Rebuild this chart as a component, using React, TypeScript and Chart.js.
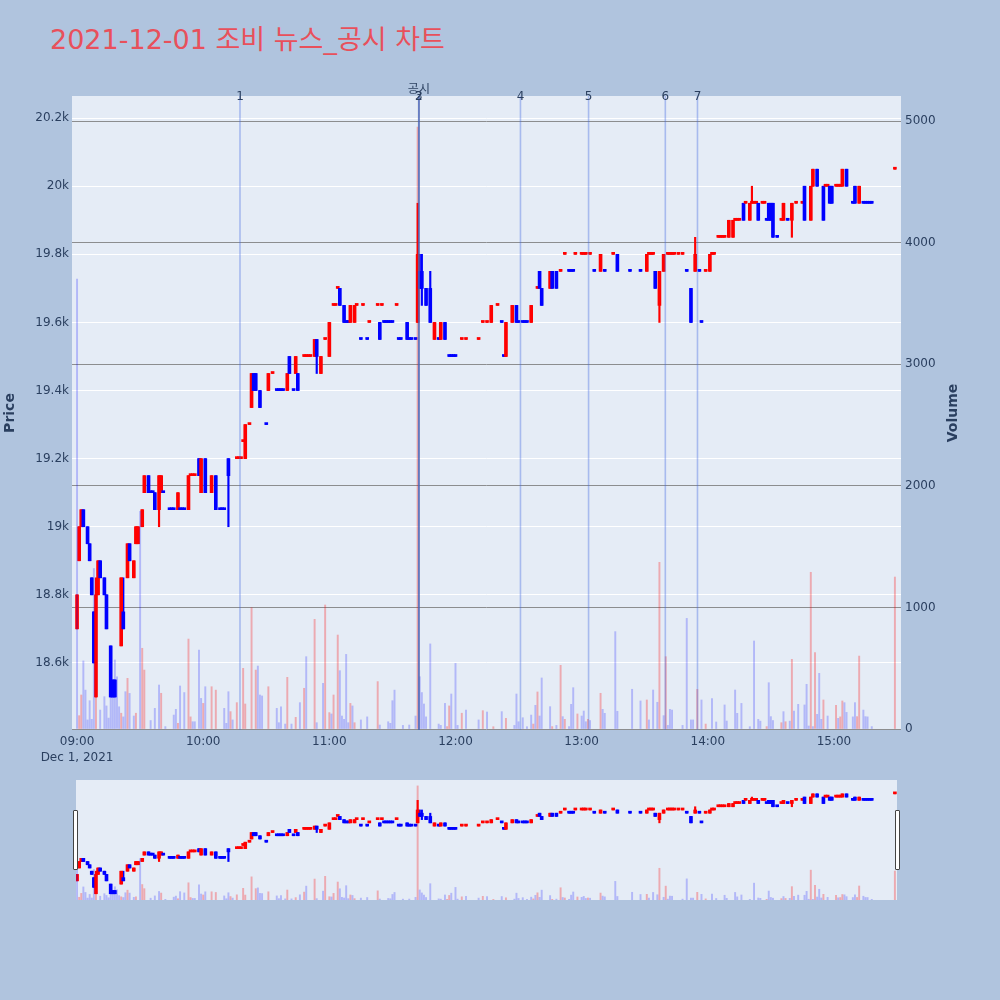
import React, { useEffect, useRef } from "react";
import { Chart, registerables } from "chart.js";

Chart.register(...registerables);

// ---------- data (minutes after 09:00, 2021-12-01) ----------
const candleMinutes = [
  0, 1, 2, 3, 5, 6, 7, 8, 9, 10,
  11, 13, 14, 16, 17, 18, 21, 22, 24, 25,
  27, 28, 29, 31, 32, 34, 35, 36, 37, 39,
  40, 41, 44, 45, 46, 48, 49, 50, 51, 53,
  54, 55, 56, 58, 59, 61, 64, 66, 68, 69,
  70, 72, 76, 77, 78, 79, 80, 82, 83, 84,
  85, 87, 90, 91, 93, 95, 96, 97, 98, 100,
  101, 103, 104, 105, 108, 109, 110, 111, 113, 114,
  116, 118, 120, 122, 123, 124, 125, 127, 128, 129,
  130, 132, 133, 135, 136, 138, 139, 143, 144, 145,
  146, 147, 148, 149, 150, 152, 153, 154, 157, 158,
  159, 161, 162, 163, 164, 166, 168, 170, 172, 173,
  175, 177, 178, 179, 180, 183, 185, 191, 193, 195,
  197, 200, 202, 203, 204, 207, 209, 210, 212, 213,
  214, 216, 219, 220, 221, 225, 226, 228, 230, 232,
  234, 235, 236, 237, 240, 241, 242, 244, 246, 249,
  251, 255, 257, 263, 268, 271, 272, 273, 274, 275,
  277, 279, 281, 282, 283, 284, 286, 288, 290, 292,
  294, 296, 297, 299, 301, 302, 303, 305, 306, 307,
  308, 310, 312, 313, 314, 315, 317, 318, 320, 321,
  322, 323, 324, 326, 327, 328, 329, 330, 331, 333,
  335, 336, 338, 340, 342, 345, 346, 349, 350, 352,
  355, 356, 357, 358, 359, 361, 362, 363, 364, 366,
  369, 370, 372, 374, 375, 376, 377, 378, 389,
];

const openPrices = [
  18700, 18900, 19000, 19050, 19000, 18950, 18850, 18750, 18500, 18800,
  18900, 18850, 18800, 18650, 18550, 18550, 18650, 18750, 18850, 18950,
  18850, 18950, 18950, 19000, 19100, 19150, 19100, 19100, 19100, 19050,
  19100, 19100, 19050, 19050, 19050, 19050, 19050, 19050, 19050, 19050,
  19150, 19150, 19150, 19200, 19100, 19200, 19100, 19150, 19050, 19050,
  19050, 19200, 19200, 19200, 19200, 19250, 19200, 19300, 19350, 19450,
  19450, 19400, 19300, 19400, 19450, 19400, 19400, 19400, 19400, 19400,
  19500, 19400, 19450, 19450, 19500, 19500, 19500, 19500, 19500, 19550,
  19450, 19550, 19500, 19650, 19650, 19700, 19700, 19650, 19600, 19600,
  19600, 19600, 19650, 19550, 19650, 19550, 19600, 19650, 19600, 19650,
  19600, 19600, 19600, 19600, 19600, 19650, 19550, 19550, 19600, 19550,
  19550, 19550, 19600, 19750, 19750, 19700, 19700, 19550, 19550, 19550,
  19600, 19500, 19500, 19500, 19500, 19550, 19550, 19550, 19600, 19600,
  19600, 19650, 19600, 19500, 19500, 19600, 19650, 19600, 19600, 19600,
  19600, 19600, 19700, 19750, 19700, 19700, 19750, 19750, 19750, 19800,
  19750, 19750, 19750, 19800, 19800, 19800, 19800, 19800, 19750, 19750,
  19750, 19800, 19800, 19750, 19750, 19750, 19800, 19800, 19800, 19750,
  19650, 19750, 19800, 19800, 19800, 19800, 19800, 19800, 19750, 19700,
  19750, 19750, 19600, 19750, 19750, 19800, 19800, 19850, 19850, 19850,
  19850, 19850, 19850, 19900, 19900, 19900, 19950, 19950, 19900, 19950,
  19950, 19950, 19950, 19950, 19950, 19900, 19950, 19950, 19950, 19850,
  19900, 19900, 19900, 19900, 19950, 19950, 20000, 19900, 20000, 20050,
  20000, 20000, 20000, 20000, 20000, 20000, 20000, 20000, 20000, 20050,
  19950, 20000, 19950, 19950, 19950, 19950, 19950, 19950, 20050,
];

const highPrices = [
  18800, 19000, 19050, 19050, 19000, 18950, 18850, 18750, 18850, 18900,
  18900, 18850, 18800, 18650, 18550, 18550, 18850, 18850, 18950, 18950,
  18900, 19000, 19000, 19050, 19150, 19150, 19100, 19100, 19100, 19150,
  19150, 19100, 19050, 19050, 19050, 19100, 19050, 19050, 19050, 19150,
  19150, 19150, 19150, 19200, 19200, 19200, 19150, 19150, 19050, 19050,
  19050, 19200, 19200, 19200, 19200, 19250, 19300, 19300, 19450, 19450,
  19450, 19400, 19300, 19450, 19450, 19400, 19400, 19400, 19400, 19450,
  19500, 19400, 19500, 19450, 19500, 19500, 19500, 19500, 19550, 19550,
  19500, 19550, 19600, 19650, 19650, 19700, 19700, 19650, 19600, 19600,
  19650, 19650, 19650, 19550, 19650, 19550, 19600, 19650, 19600, 19650,
  19600, 19600, 19600, 19600, 19600, 19650, 19550, 19550, 19600, 19550,
  19550, 19550, 19950, 19800, 19800, 19700, 19750, 19600, 19550, 19600,
  19600, 19500, 19500, 19500, 19500, 19550, 19550, 19550, 19600, 19600,
  19650, 19650, 19600, 19500, 19600, 19650, 19650, 19600, 19600, 19600,
  19600, 19650, 19700, 19750, 19700, 19750, 19750, 19750, 19750, 19800,
  19750, 19750, 19750, 19800, 19800, 19800, 19800, 19800, 19750, 19800,
  19750, 19800, 19800, 19750, 19750, 19800, 19800, 19800, 19800, 19750,
  19750, 19800, 19800, 19800, 19800, 19800, 19800, 19800, 19750, 19700,
  19850, 19750, 19600, 19750, 19800, 19800, 19800, 19850, 19850, 19850,
  19850, 19900, 19900, 19900, 19900, 19900, 19950, 19950, 19950, 20000,
  19950, 19950, 19950, 19950, 19950, 19900, 19950, 19950, 19950, 19850,
  19900, 19950, 19900, 19950, 19950, 19950, 20000, 20000, 20050, 20050,
  20000, 20000, 20000, 20000, 20000, 20000, 20000, 20000, 20050, 20050,
  19950, 20000, 20000, 19950, 19950, 19950, 19950, 19950, 20050,
];

const lowPrices = [
  18700, 18900, 19000, 19000, 18950, 18900, 18800, 18600, 18500, 18800,
  18850, 18800, 18700, 18500, 18500, 18500, 18650, 18700, 18850, 18900,
  18850, 18950, 18950, 19000, 19100, 19100, 19100, 19100, 19050, 19000,
  19100, 19100, 19050, 19050, 19050, 19050, 19050, 19050, 19050, 19050,
  19150, 19150, 19150, 19150, 19100, 19100, 19100, 19050, 19050, 19050,
  19050, 19000, 19200, 19200, 19200, 19250, 19200, 19300, 19350, 19400,
  19400, 19350, 19300, 19400, 19450, 19400, 19400, 19400, 19400, 19400,
  19450, 19400, 19450, 19400, 19500, 19500, 19500, 19500, 19500, 19450,
  19450, 19550, 19500, 19650, 19650, 19700, 19650, 19600, 19600, 19600,
  19600, 19600, 19650, 19550, 19650, 19550, 19600, 19650, 19550, 19650,
  19600, 19600, 19600, 19600, 19600, 19650, 19550, 19550, 19550, 19550,
  19550, 19550, 19600, 19700, 19650, 19650, 19600, 19550, 19550, 19550,
  19550, 19500, 19500, 19500, 19500, 19550, 19550, 19550, 19600, 19600,
  19600, 19650, 19600, 19500, 19500, 19600, 19600, 19600, 19600, 19600,
  19600, 19600, 19700, 19700, 19650, 19700, 19700, 19700, 19750, 19800,
  19750, 19750, 19750, 19800, 19800, 19800, 19800, 19800, 19750, 19750,
  19750, 19800, 19750, 19750, 19750, 19750, 19800, 19800, 19800, 19700,
  19600, 19750, 19800, 19800, 19800, 19800, 19800, 19800, 19750, 19600,
  19750, 19750, 19600, 19750, 19750, 19800, 19800, 19850, 19850, 19850,
  19850, 19850, 19850, 19900, 19900, 19900, 19900, 19950, 19900, 19950,
  19950, 19950, 19900, 19950, 19950, 19900, 19900, 19900, 19850, 19850,
  19900, 19900, 19900, 19850, 19950, 19950, 19900, 19900, 20000, 20000,
  19900, 20000, 20000, 19950, 19950, 20000, 20000, 20000, 20000, 20000,
  19950, 19950, 19950, 19950, 19950, 19950, 19950, 19950, 20050,
];

const closePrices = [
  18800, 19000, 19050, 19000, 18950, 18900, 18800, 18600, 18800, 18900,
  18850, 18800, 18700, 18500, 18500, 18500, 18850, 18700, 18950, 18900,
  18900, 19000, 19000, 19050, 19150, 19100, 19100, 19100, 19050, 19150,
  19150, 19100, 19050, 19050, 19050, 19100, 19050, 19050, 19050, 19150,
  19150, 19150, 19150, 19150, 19200, 19100, 19150, 19050, 19050, 19050,
  19050, 19150, 19200, 19200, 19200, 19250, 19300, 19300, 19450, 19400,
  19400, 19350, 19300, 19450, 19450, 19400, 19400, 19400, 19400, 19450,
  19450, 19400, 19500, 19400, 19500, 19500, 19500, 19500, 19550, 19500,
  19500, 19550, 19600, 19650, 19650, 19700, 19650, 19600, 19600, 19600,
  19650, 19650, 19650, 19550, 19650, 19550, 19600, 19650, 19550, 19650,
  19600, 19600, 19600, 19600, 19600, 19650, 19550, 19550, 19550, 19550,
  19550, 19550, 19800, 19700, 19700, 19650, 19600, 19600, 19550, 19600,
  19550, 19500, 19500, 19500, 19500, 19550, 19550, 19550, 19600, 19600,
  19650, 19650, 19600, 19500, 19600, 19650, 19600, 19600, 19600, 19600,
  19600, 19650, 19700, 19700, 19650, 19750, 19700, 19700, 19750, 19800,
  19750, 19750, 19750, 19800, 19800, 19800, 19800, 19800, 19750, 19800,
  19750, 19800, 19750, 19750, 19750, 19800, 19800, 19800, 19800, 19700,
  19750, 19800, 19800, 19800, 19800, 19800, 19800, 19800, 19750, 19600,
  19800, 19750, 19600, 19750, 19800, 19800, 19800, 19850, 19850, 19850,
  19850, 19900, 19900, 19900, 19900, 19900, 19900, 19950, 19950, 19950,
  19950, 19950, 19900, 19950, 19950, 19900, 19900, 19900, 19850, 19850,
  19900, 19950, 19900, 19950, 19950, 19950, 19900, 20000, 20050, 20000,
  19900, 20000, 20000, 19950, 19950, 20000, 20000, 20000, 20050, 20000,
  19950, 19950, 20000, 19950, 19950, 19950, 19950, 19950, 20050,
];

const volumeMinutes = [
  0, 1, 2, 3, 4, 5, 6, 7, 8, 9,
  11, 13, 14, 15, 16, 17, 18, 19, 20, 21,
  22, 23, 24, 25, 27, 28, 30, 31, 32, 35,
  37, 39, 40, 42, 46, 47, 48, 49, 51, 53,
  54, 55, 56, 58, 59, 60, 61, 64, 66, 70,
  71, 72, 73, 74, 76, 79, 80, 83, 85, 86,
  87, 88, 91, 95, 96, 97, 99, 100, 102, 104,
  106, 108, 109, 113, 114, 117, 118, 120, 121, 122,
  124, 125, 126, 127, 128, 129, 130, 131, 132, 135,
  138, 143, 144, 148, 149, 150, 151, 155, 158, 161,
  162, 163, 164, 165, 166, 168, 172, 173, 175, 176,
  177, 178, 180, 181, 183, 185, 191, 193, 195, 198,
  202, 204, 208, 209, 210, 212, 214, 216, 217, 218,
  219, 220, 221, 225, 226, 228, 230, 231, 232, 234,
  235, 236, 238, 240, 241, 242, 243, 244, 249, 250,
  251, 256, 257, 264, 268, 271, 272, 274, 276, 277,
  279, 280, 281, 282, 283, 288, 290, 292, 293, 295,
  297, 299, 302, 304, 308, 309, 313, 314, 316, 320,
  322, 324, 325, 328, 329, 330, 331, 335, 336, 337,
  339, 340, 341, 343, 346, 347, 348, 349, 350, 351,
  352, 353, 354, 355, 357, 361, 362, 363, 364, 365,
  366, 369, 370, 371, 372, 374, 375, 376, 378, 389,
];

const volumeValues = [
  3700, 110, 280, 560, 320, 75, 233, 80, 1320, 1110,
  156, 266, 190, 90, 260, 266, 568, 430, 183, 130,
  100, 307, 417, 293, 107, 130, 1790, 664, 485, 70,
  170, 362, 294, 20, 115, 162, 47, 354, 300, 740,
  100, 60, 60, 650, 252, 211, 348, 348, 320, 170,
  47, 307, 143, 75, 217, 499, 206, 998, 485, 518,
  280, 272, 348, 170, 52, 183, 41, 425, 41, 96,
  217, 335, 595, 902, 52, 376, 1020, 135, 124, 280,
  773, 480, 107, 80, 614, 52, 211, 190, 52, 75,
  100, 390, 33, 60, 47, 233, 320, 30, 33, 107,
  4950, 430, 300, 206, 100, 700, 41, 30, 211, 20,
  190, 288, 540, 30, 130, 156, 75, 151, 140, 19,
  143, 88, 30, 288, 60, 93, 19, 115, 41, 195,
  305, 107, 420, 184, 20, 30, 524, 102, 80, 20,
  203, 340, 124, 107, 148, 60, 80, 70, 294, 162,
  129, 801, 146, 327, 231, 239, 75, 321, 220, 1371,
  110, 595, 30, 162, 156, 30, 910, 75, 75, 326,
  239, 41, 250, 58, 198, 66, 321, 129, 211, 19,
  724, 80, 65, 20, 381, 102, 70, 52, 143, 60,
  65, 573, 148, 203, 198, 368, 25, 1289, 20, 628,
  121, 458, 80, 239, 107, 195, 88, 100, 231, 217,
  137, 100, 217, 102, 600, 156, 102, 100, 20, 1250,
];

// 1 = rising (red), 0 = falling (blue)
const volumeRising = [
  0, 1, 1, 0, 0, 0, 0, 0, 0, 1,
  0, 0, 0, 0, 0, 0, 0, 0, 0, 1,
  0, 0, 1, 0, 0, 1, 0, 1, 1, 0,
  0, 0, 1, 0, 0, 0, 1, 0, 0, 1,
  1, 0, 0, 0, 0, 1, 0, 1, 1, 0,
  0, 0, 1, 0, 1, 1, 1, 1, 1, 0,
  0, 0, 1, 0, 0, 0, 0, 1, 0, 1,
  0, 1, 0, 1, 0, 0, 1, 1, 0, 1,
  1, 0, 0, 0, 0, 0, 1, 0, 1, 0,
  0, 1, 0, 0, 0, 0, 0, 0, 0, 0,
  1, 0, 0, 0, 0, 0, 0, 0, 0, 1,
  1, 0, 0, 0, 1, 0, 0, 1, 0, 1,
  0, 1, 0, 0, 0, 0, 0, 0, 1, 0,
  1, 0, 0, 0, 1, 0, 1, 0, 1, 0,
  0, 0, 1, 0, 0, 0, 1, 0, 1, 0,
  0, 0, 0, 0, 0, 1, 0, 0, 0, 1,
  0, 1, 0, 0, 0, 0, 0, 0, 0, 1,
  0, 1, 0, 0, 0, 0, 0, 0, 0, 0,
  0, 0, 0, 1, 0, 0, 0, 1, 0, 1,
  0, 1, 0, 0, 0, 0, 0, 1, 0, 1,
  0, 0, 0, 1, 0, 1, 0, 1, 1, 0,
  0, 0, 0, 1, 1, 0, 0, 0, 0, 1,
];

const newsMinutes = [77.5, 162.6, 162.6, 210.9, 243.3, 279.8, 295.1];
const newsLabels = ["1", "2", "3", "4", "5", "6", "7"];
const disclosureMinutes = [162.6];
const disclosureLabels = ["공시"];

const timeTickMinutes = [0, 60, 120, 180, 240, 300, 360];
const timeTickLabels = ["09:00", "10:00", "11:00", "12:00", "13:00", "14:00", "15:00"];
const dateLabel = "Dec 1, 2021";
const priceTicks = [18600, 18800, 19000, 19200, 19400, 19600, 19800, 20000, 20200];
const volumeTicks = [0, 1000, 2000, 3000, 4000, 5000];

const chartTitle = "2021-12-01 조비 뉴스_공시 차트";
const priceAxisTitle = "Price";
const volumeAxisTitle = "Volume";

// ---------- axis ranges ----------
const MAIN_X_RANGE = [-2.4, 391.9];
const SLIDER_X_RANGE = [-0.5, 390.0];
const PRICE_RANGE = [18403, 20265];
const VOLUME_RANGE = [-8, 5206];

// ---------- styles ----------
const FONT = '"DejaVu Sans", "Noto Sans CJK KR", sans-serif';
const TEXT_COLOR = "#2a3f5f";
const PLOT_BG = "#e5ecf6";
const PAGE_BG = "#b0c4de";
const UP = "#ff0000";
const DOWN = "#0000ff";
const UP_VOL = "rgba(255,0,0,0.28)";
const DOWN_VOL = "rgba(0,0,255,0.22)";

function candleDirections(): boolean[] {
  const dirs: boolean[] = [];
  for (let i = 0; i < closePrices.length; i++) {
    const o = openPrices[i];
    const c = closePrices[i];
    if (c > o) dirs.push(true);
    else if (c < o) dirs.push(false);
    else if (i === 0) dirs.push(true);
    else if (c > closePrices[i - 1]) dirs.push(true);
    else if (c < closePrices[i - 1]) dirs.push(false);
    else dirs.push(dirs[i - 1]);
  }
  return dirs;
}

function buildDatasets(bodyW: number, wickW: number, volW: number): any[] {
  const dirs = candleDirections();
  const colors = dirs.map((u) => (u ? UP : DOWN));
  return [
    {
      type: "bar",
      label: "wick",
      data: candleMinutes.map((t, i) => ({ x: t, y: [lowPrices[i], highPrices[i]] })),
      backgroundColor: colors,
      barThickness: wickW,
      grouped: false,
      minBarLength: 1,
      yAxisID: "y",
      order: 3,
    },
    {
      type: "bar",
      label: "body",
      data: candleMinutes.map((t, i) => ({ x: t, y: [openPrices[i], closePrices[i]] })),
      backgroundColor: colors,
      barThickness: bodyW,
      grouped: false,
      minBarLength: 2,
      yAxisID: "y",
      order: 2,
    },
    {
      type: "bar",
      label: "volume",
      data: volumeMinutes.map((t, i) => ({ x: t, y: volumeValues[i] })),
      backgroundColor: volumeRising.map((r) => (r ? UP_VOL : DOWN_VOL)),
      barThickness: volW,
      grouped: false,
      yAxisID: "yv",
      order: 1,
    },
  ];
}

const plotBgPlugin = {
  id: "plotBg",
  beforeDraw(chart: any) {
    const { ctx, chartArea: a } = chart;
    ctx.save();
    ctx.fillStyle = PLOT_BG;
    ctx.fillRect(a.left, a.top, a.right - a.left, a.bottom - a.top);
    ctx.restore();
  },
};

const overlayPlugin = {
  id: "overlay",
  afterDatasetsDraw(chart: any) {
    const { ctx, chartArea: a, scales } = chart;
    const xs = scales.x;
    ctx.save();
    disclosureMinutes.forEach((t) => {
      const px = xs.getPixelForValue(t);
      ctx.strokeStyle = "rgba(90,90,90,0.55)";
      ctx.lineWidth = 2;
      ctx.beginPath();
      ctx.moveTo(px, a.top);
      ctx.lineTo(px, a.bottom);
      ctx.stroke();
    });
    newsMinutes.forEach((t) => {
      const px = xs.getPixelForValue(t);
      ctx.strokeStyle = "rgba(65,105,225,0.38)";
      ctx.lineWidth = 1.6;
      ctx.beginPath();
      ctx.moveTo(px, a.top);
      ctx.lineTo(px, a.bottom);
      ctx.stroke();
    });
    ctx.fillStyle = TEXT_COLOR;
    ctx.font = "12px " + FONT;
    ctx.textAlign = "center";
    ctx.textBaseline = "middle";
    newsMinutes.forEach((t, i) => {
      ctx.fillText(newsLabels[i], xs.getPixelForValue(t), a.top + 1);
    });
    disclosureMinutes.forEach((t, i) => {
      ctx.fillText(disclosureLabels[i], xs.getPixelForValue(t), a.top - 6);
    });
    ctx.restore();
  },
  afterDraw(chart: any) {
    const { ctx, chartArea: a } = chart;
    const cy = (a.top + a.bottom) / 2;
    ctx.save();
    ctx.fillStyle = TEXT_COLOR;
    ctx.font = "bold 14px " + FONT;
    ctx.textAlign = "center";
    ctx.textBaseline = "middle";
    ctx.translate(10, cy);
    ctx.rotate(-Math.PI / 2);
    ctx.fillText(priceAxisTitle, 0, 0);
    ctx.restore();
    ctx.save();
    ctx.fillStyle = TEXT_COLOR;
    ctx.font = "bold 14px " + FONT;
    ctx.textAlign = "center";
    ctx.textBaseline = "middle";
    ctx.translate(953, cy);
    ctx.rotate(-Math.PI / 2);
    ctx.fillText(volumeAxisTitle, 0, 0);
    ctx.restore();
  },
};

function mainConfig(): any {
  return {
    type: "bar",
    data: { datasets: buildDatasets(3, 1.5, 1.3) },
    plugins: [plotBgPlugin, overlayPlugin],
    options: {
      responsive: false,
      animation: false,
      events: [],
      layout: { padding: { top: 96, left: 0, right: 0, bottom: 0 } },
      plugins: { legend: { display: false }, tooltip: { enabled: false }, title: { display: false } },
      scales: {
        x: {
          type: "linear",
          min: MAIN_X_RANGE[0],
          max: MAIN_X_RANGE[1],
          offset: false,
          grid: { display: false, drawTicks: false, offset: false },
          border: { display: false },
          ticks: {
            autoSkip: false,
            maxRotation: 0,
            padding: 4,
            color: TEXT_COLOR,
            font: { family: FONT, size: 12, lineHeight: 1.35 },
            callback: (v: number) => {
              const i = timeTickMinutes.indexOf(v);
              if (i < 0) return "";
              return i === 0 ? [timeTickLabels[i], dateLabel] : timeTickLabels[i];
            },
          },
          afterBuildTicks: (s: any) => {
            s.ticks = timeTickMinutes.map((v) => ({ value: v }));
          },
          afterFit: (s: any) => {
            s.height = 40;
          },
        },
        y: {
          type: "linear",
          position: "left",
          min: PRICE_RANGE[0],
          max: PRICE_RANGE[1],
          grid: { color: "#ffffff", lineWidth: 1, drawTicks: false },
          border: { display: false },
          ticks: {
            padding: 3,
            color: TEXT_COLOR,
            font: { family: FONT, size: 12 },
            callback: (v: number) => `${v / 1000}k`,
          },
          afterBuildTicks: (s: any) => {
            s.ticks = priceTicks.map((v) => ({ value: v }));
          },
          afterFit: (s: any) => {
            s.width = 72;
          },
        },
        yv: {
          type: "linear",
          position: "right",
          min: VOLUME_RANGE[0],
          max: VOLUME_RANGE[1],
          grid: { color: "rgba(125,125,125,0.85)", lineWidth: 1, drawTicks: false },
          border: { display: false },
          ticks: {
            padding: 4,
            color: TEXT_COLOR,
            font: { family: FONT, size: 12 },
            callback: (v: number) => `${v}`,
          },
          afterBuildTicks: (s: any) => {
            s.ticks = volumeTicks.map((v) => ({ value: v }));
          },
          afterFit: (s: any) => {
            s.width = 99;
          },
        },
      },
    },
  };
}

function sliderConfig(): any {
  return {
    type: "bar",
    data: { datasets: buildDatasets(3, 1.5, 1.3) },
    options: {
      responsive: false,
      animation: false,
      events: [],
      layout: { padding: 0 },
      plugins: { legend: { display: false }, tooltip: { enabled: false } },
      scales: {
        x: { type: "linear", display: false, min: SLIDER_X_RANGE[0], max: SLIDER_X_RANGE[1], offset: false },
        y: { type: "linear", display: false, min: PRICE_RANGE[0], max: PRICE_RANGE[1] },
        yv: { type: "linear", display: false, min: VOLUME_RANGE[0], max: VOLUME_RANGE[1] },
      },
    },
  };
}

export default function App() {
  const mainRef = useRef<HTMLCanvasElement>(null);
  const sliderRef = useRef<HTMLCanvasElement>(null);

  useEffect(() => {
    const main = new Chart(mainRef.current as HTMLCanvasElement, mainConfig());
    const slider = new Chart(sliderRef.current as HTMLCanvasElement, sliderConfig());
    return () => {
      main.destroy();
      slider.destroy();
    };
  }, []);

  const handle = (left: number): React.CSSProperties => ({
    position: "absolute",
    left,
    top: 810,
    width: 3,
    height: 58,
    background: "#ffffff",
    border: "1px solid #444",
    borderRadius: 1,
  });

  return (
    <div
      style={{
        position: "absolute",
        left: 0,
        top: 0,
        width: 1000,
        height: 1000,
        background: PAGE_BG,
        overflow: "hidden",
      }}
    >
      <div
        style={{
          position: "absolute",
          left: 50,
          top: 22,
          fontFamily: FONT,
          fontSize: 27,
          lineHeight: "36px",
          color: "#e8505b",
          whiteSpace: "nowrap",
        }}
      >
        {chartTitle}
      </div>
      <canvas
        ref={mainRef}
        width={1000}
        height={770}
        style={{ position: "absolute", left: 0, top: 0, width: 1000, height: 770 }}
      />
      <div
        style={{
          position: "absolute",
          left: 76,
          top: 780,
          width: 821,
          height: 120,
          background: PLOT_BG,
        }}
      >
        <canvas ref={sliderRef} width={821} height={120} style={{ width: 821, height: 120, display: "block" }} />
      </div>
      <div style={handle(73)} />
      <div style={handle(895)} />
    </div>
  );
}
